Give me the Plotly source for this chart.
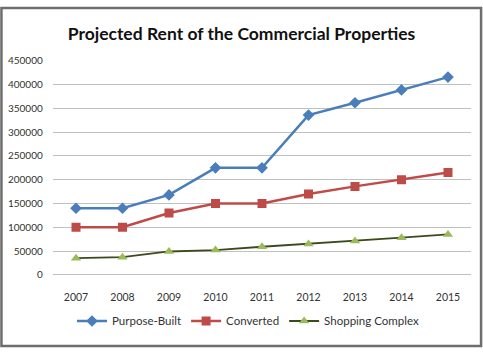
import plotly.graph_objects as go

years = ["2007", "2008", "2009", "2010", "2011", "2012", "2013", "2014", "2015"]
purpose_built = [140000, 140000, 168000, 225000, 225000, 336000, 362000, 389000, 416000]
converted = [100000, 100000, 130000, 150000, 150000, 170000, 186000, 200000, 215000]
shopping_complex = [35000, 37000, 49000, 52000, 59000, 65000, 71000, 78000, 85000]
y_ticks = [0, 50000, 100000, 150000, 200000, 250000, 300000, 350000, 400000, 450000]

W, H = 483, 353
fig = go.Figure()
fig.add_trace(go.Scatter(x=years, y=purpose_built, name="Purpose-Built", mode="lines+markers",
                         line=dict(color="#4A7EBB", width=2.5),
                         marker=dict(symbol="diamond", size=9, color="#4A7EBB")))
fig.add_trace(go.Scatter(x=years, y=converted, name="Converted", mode="lines+markers",
                         line=dict(color="#BE4B48", width=2.5),
                         marker=dict(symbol="square", size=9, color="#BE4B48")))
fig.add_trace(go.Scatter(x=years, y=shopping_complex, name="Shopping Complex", mode="lines+markers",
                         line=dict(color="#3C4A1E", width=1.8),
                         marker=dict(symbol="triangle-up", size=9, color="#9BBB59")))

font_family = "Lato, Roboto, sans-serif"
fig.update_layout(
    width=W, height=H,
    margin=dict(l=0, r=0, t=0, b=0),
    paper_bgcolor="white", plot_bgcolor="white",
    font=dict(family=font_family, size=10.5, color="#333333"),
    title=dict(text="<b>Projected Rent of the Commercial Properties</b>",
               x=0.5, xanchor="center", y=1 - 34 / H, yanchor="middle",
               font=dict(size=17.5, color="#111111", family="Lato, sans-serif")),
    xaxis=dict(type="category", range=[-0.5, 8.5], domain=[52.75 / W, 471.25 / W],
               showgrid=False, showline=False, ticks="", ticklabelstandoff=15,
               tickfont=dict(size=10.5, color="#333333"), zeroline=False),
    yaxis=dict(range=[0, 450000], domain=[(H - 278) / H, (H - 56) / H],
               tickvals=y_ticks, ticktext=[str(v) for v in y_ticks],
               showgrid=True, gridcolor="#C0C0C0", gridwidth=1,
               zeroline=True, zerolinecolor="#C0C0C0", zerolinewidth=1,
               showline=False, ticks="", ticklabelstandoff=9,
               tickfont=dict(size=10, color="#333333")),
    legend=dict(orientation="h", x=72 / W, xanchor="left", y=1 - 326 / H, yanchor="middle",
                font=dict(size=11.5, color="#333333"), itemwidth=30, bgcolor="rgba(0,0,0,0)"),
    showlegend=True,
    shapes=[dict(type="rect", xref="paper", yref="paper", x0=0.003, x1=0.996, y0=0.003, y1=0.997,
                 line=dict(color="#6E6E6E", width=2.5), fillcolor="rgba(0,0,0,0)", layer="above")],
)
fig.write_html("out.html")
